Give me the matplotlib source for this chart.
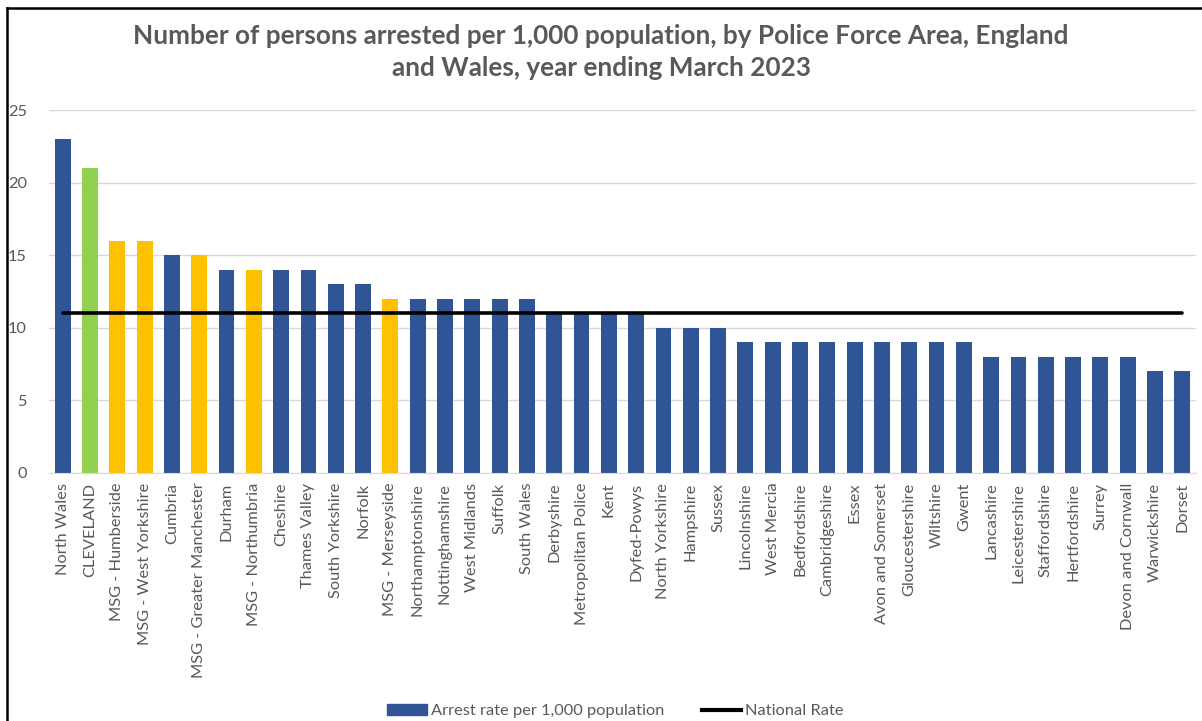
import numpy as np
import matplotlib.pyplot as plt
from matplotlib.lines import Line2D
from matplotlib.patches import Patch

forces = ["North Wales", "CLEVELAND", "MSG - Humberside", "MSG - West Yorkshire", "Cumbria",
          "MSG - Greater Manchester", "Durham", "MSG - Northumbria", "Cheshire", "Thames Valley",
          "South Yorkshire", "Norfolk", "MSG - Merseyside", "Northamptonshire", "Nottinghamshire",
          "West Midlands", "Suffolk", "South Wales", "Derbyshire", "Metropolitan Police", "Kent",
          "Dyfed-Powys", "North Yorkshire", "Hampshire", "Sussex", "Lincolnshire", "West Mercia",
          "Bedfordshire", "Cambridgeshire", "Essex", "Avon and Somerset", "Gloucestershire",
          "Wiltshire", "Gwent", "Lancashire", "Leicestershire", "Staffordshire", "Hertfordshire",
          "Surrey", "Devon and Cornwall", "Warwickshire", "Dorset"]
rates = [23, 21, 16, 16, 15, 15, 14, 14, 14, 14, 13, 13, 12, 12, 12, 12, 12, 12, 11, 11, 11,
         11, 10, 10, 10, 9, 9, 9, 9, 9, 9, 9, 9, 9, 8, 8, 8, 8, 8, 8, 7, 7]
national_rate = 11

blue = "#2F5597"
green = "#92D050"
yellow = "#FFC000"
colors = []
for f in forces:
    if f == "CLEVELAND":
        colors.append(green)
    elif f.startswith("MSG"):
        colors.append(yellow)
    else:
        colors.append(blue)

plt.rcParams['font.family'] = ['Lato', 'DejaVu Sans']
txt = "#595959"

fig = plt.figure(figsize=(12.02, 7.21), dpi=100)
ax = fig.add_axes([49/1202, 1-473/721, (1196-49)/1202, (473-110)/721])

x = np.arange(len(forces))
ax.bar(x, rates, width=0.58, color=colors, zorder=2)
ax.plot(x, [national_rate]*len(x), color="black", lw=2.6, solid_capstyle="round", zorder=3)

ax.set_xlim(-0.5, len(forces)-0.5)
ax.set_ylim(0, 25)
ax.set_yticks([0, 5, 10, 15, 20, 25])
ax.yaxis.grid(True, color="#D9D9D9", lw=1, zorder=0)
ax.set_axisbelow(True)
for s in ["top", "right", "left"]:
    ax.spines[s].set_visible(False)
ax.spines["bottom"].set_color("#D9D9D9")
ax.tick_params(axis="both", length=0, colors=txt, labelsize=11.8)
ax.tick_params(axis="y", pad=16)
ax.tick_params(axis="x", pad=7)
ax.set_xticks(x)
ax.set_xticklabels(forces, rotation=90)

fig.text(0.5, 1-52/721, "Number of persons arrested per 1,000 population, by Police Force Area, England\nand Wales, year ending March 2023",
         ha="center", va="center", fontsize=18.8, fontweight="bold", color=txt, linespacing=1.45)

handles = [Patch(color=blue), Line2D([0], [0], color="black", lw=3)]
fig.legend(handles, ["Arrest rate per 1,000 population", "National Rate"], loc="center",
           bbox_to_anchor=(0.512, 1-711/721), ncol=2, frameon=False, fontsize=11.8,
           labelcolor=txt, handlelength=2.4, handletextpad=0.25, columnspacing=2.3)

# frame around the chart area (top and left edges visible)
fig.add_artist(Line2D([7/1202, 7/1202], [0, 1-8/721], color="black", lw=1.8, transform=fig.transFigure))
fig.add_artist(Line2D([7/1202, 1], [1-8/721, 1-8/721], color="black", lw=1.8, transform=fig.transFigure))

fig.savefig("out.png", dpi=100)
